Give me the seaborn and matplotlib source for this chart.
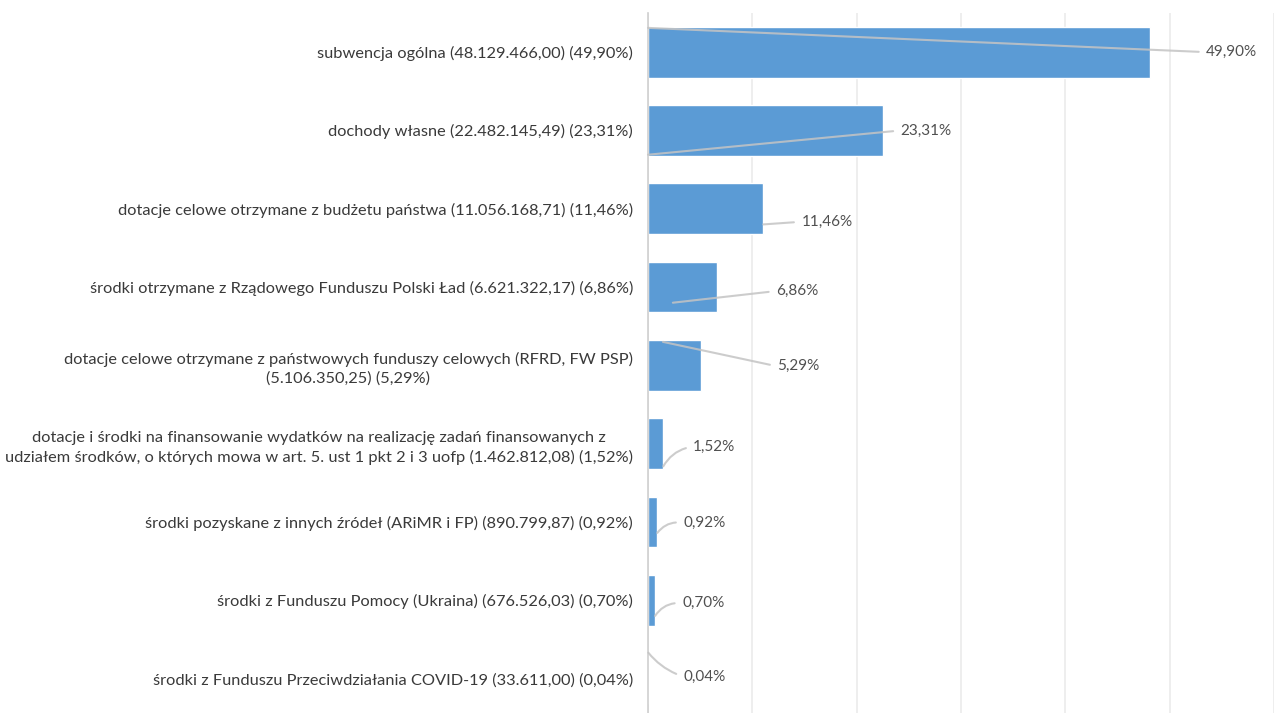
import numpy as np
import pandas as pd
import seaborn as sns
import matplotlib.pyplot as plt

# data
categories = [
    "subwencja ogólna (48.129.466,00) (49,90%)",
    "dochody własne (22.482.145,49) (23,31%)",
    "dotacje celowe otrzymane z budżetu państwa (11.056.168,71) (11,46%)",
    "środki otrzymane z Rządowego Funduszu Polski Ład (6.621.322,17) (6,86%)",
    "dotacje celowe otrzymane z państwowych funduszy celowych (RFRD, FW PSP)\n(5.106.350,25) (5,29%)",
    "dotacje i środki na finansowanie wydatków na realizację zadań finansowanych z\n"
    "udziałem środków, o których mowa w art. 5. ust 1 pkt 2 i 3 uofp (1.462.812,08) (1,52%)",
    "środki pozyskane z innych źródeł (ARiMR i FP) (890.799,87) (0,92%)",
    "środki z Funduszu Pomocy (Ukraina) (676.526,03) (0,70%)",
    "środki z Funduszu Przeciwdziałania COVID-19 (33.611,00) (0,04%)",
]
amounts = [48129466.00, 22482145.49, 11056168.71, 6621322.17, 5106350.25,
           1462812.08, 890799.87, 676526.03, 33611.00]
pct_labels = ["49,90%", "23,31%", "11,46%", "6,86%", "5,29%",
              "1,52%", "0,92%", "0,70%", "0,04%"]

# where the Excel data labels were dragged to (pixels from bar end) and
# where their leader lines point (fraction of bar length, offset in rows)
label_dx = [56, 18, 38, 59, 76, 30, 26, 27, 35]
label_dy = [0, 0, -13, -4, -1, -3, -1, -3, 2]
lead_fx = [0.0, 0.0, 1.0, 0.36, 0.28, 1.0, 1.0, 1.0, 1.0]
lead_dy = [-0.31, 0.31, 0.2, 0.2, -0.3, 0.29, 0.14, 0.2, -0.33]
lead_rad = [0, 0, 0, 0, 0, 0.25, 0.3, 0.3, -0.15]

df = pd.DataFrame({"kategoria": categories, "kwota": amounts})

sns.set_theme(style="white")
plt.rcParams['font.family'] = ['Lato', 'DejaVu Sans']

fig = plt.figure(figsize=(12.74, 7.13), dpi=100)
ax = fig.add_axes([648 / 1274, 0, 1 - 648 / 1274, 1 - 13 / 713])

sns.barplot(data=df, x="kwota", y="kategoria", orient="h", color="#5b9bd5",
            saturation=1, width=0.65, ax=ax)

# chart is cropped on the right, just past the 50 mln gridline
ax.set_xlim(0, 5.84e7)
ax.set_ylim(8.44, -0.5)
ax.set_xticks(np.arange(0, 6e7 + 1, 1e7))
ax.set_xticklabels([])
ax.xaxis.grid(True, color="#ebebeb", linewidth=1.2)
ax.set_axisbelow(True)
ax.set_xlabel("")
ax.set_ylabel("")
ax.tick_params(axis="y", length=0, pad=10.8, labelsize=11.8, labelcolor="#3a3a3a")
ax.tick_params(axis="x", length=0)
for t in ax.get_yticklabels():
    t.set_multialignment("center")
    t.set_linespacing(1.4)

for s in ["top", "right", "bottom"]:
    ax.spines[s].set_visible(False)
ax.spines["left"].set_color("#cfcfcf")
ax.spines["left"].set_linewidth(1.2)

# data labels with leader lines
for i, (v, lab) in enumerate(zip(amounts, pct_labels)):
    tx, ty = ax.transData.transform((v, i))
    txt_xy = ax.transData.inverted().transform((tx + label_dx[i], ty + label_dy[i]))
    ax.annotate(
        lab,
        xy=(v * lead_fx[i], i + lead_dy[i]),
        xytext=tuple(txt_xy),
        textcoords="data",
        ha="left", va="center", fontsize=11, color="#505050",
        arrowprops=dict(arrowstyle="-", color="#c4c4c4", lw=1.5, alpha=0.85,
                        relpos=(0, 0.5), shrinkA=3, shrinkB=0,
                        connectionstyle=f"arc3,rad={lead_rad[i]}"),
    )

fig.savefig("out.png", dpi=100)
